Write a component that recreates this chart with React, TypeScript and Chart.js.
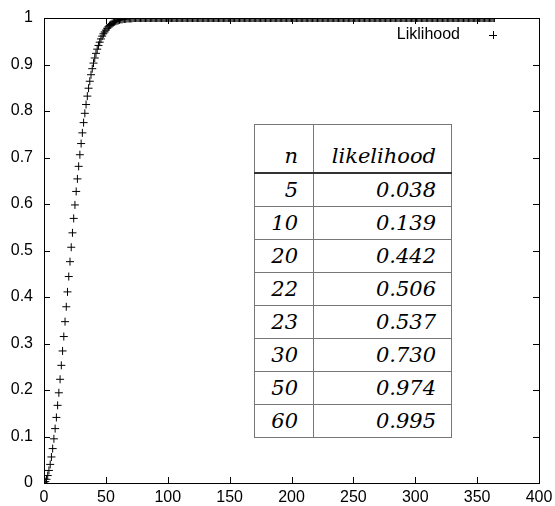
import React, { useEffect, useRef } from "react";
import { Chart, registerables } from "chart.js";

Chart.register(...registerables);

// likelihood that at least two of (n+1) people share a birthday; index = n
const likelihood: number[] = [
  0.000, 0.003, 0.008, 0.016, 0.027, 0.040, 0.056, 0.074, 0.095, 0.117,
  0.141, 0.167, 0.194, 0.223, 0.253, 0.284, 0.315, 0.347, 0.379, 0.411,
  0.444, 0.476, 0.507, 0.538, 0.569, 0.598, 0.627, 0.654, 0.681, 0.706,
  0.730, 0.753, 0.775, 0.795, 0.814, 0.832, 0.849, 0.864, 0.878, 0.891,
  0.903, 0.914, 0.924, 0.933, 0.941, 0.948, 0.955, 0.961, 0.966, 0.970,
  0.974, 0.978, 0.981, 0.984, 0.986, 0.988, 0.990, 0.992, 0.993, 0.994,
  0.995, 0.996, 0.997, 0.997, 0.998, 0.998, 0.998, 0.999, 0.999, 0.999,
  0.999, 0.999,
  1, 1, 1, 1, 1, 1, 1, 1, 1, 1, 1, 1, 1, 1, 1, 1, 1, 1, 1, 1,
  1, 1, 1, 1, 1, 1, 1, 1, 1, 1, 1, 1, 1, 1, 1, 1, 1, 1, 1, 1,
  1, 1, 1, 1, 1, 1, 1, 1, 1, 1, 1, 1, 1, 1, 1, 1, 1, 1, 1, 1,
  1, 1, 1, 1, 1, 1, 1, 1, 1, 1, 1, 1, 1, 1, 1, 1, 1, 1, 1, 1,
  1, 1, 1, 1, 1, 1, 1, 1, 1, 1, 1, 1, 1, 1, 1, 1, 1, 1, 1, 1,
  1, 1, 1, 1, 1, 1, 1, 1, 1, 1, 1, 1, 1, 1, 1, 1, 1, 1, 1, 1,
  1, 1, 1, 1, 1, 1, 1, 1, 1, 1, 1, 1, 1, 1, 1, 1, 1, 1, 1, 1,
  1, 1, 1, 1, 1, 1, 1, 1, 1, 1, 1, 1, 1, 1, 1, 1, 1, 1, 1, 1,
  1, 1, 1, 1, 1, 1, 1, 1, 1, 1, 1, 1, 1, 1, 1, 1, 1, 1, 1, 1,
  1, 1, 1, 1, 1, 1, 1, 1, 1, 1, 1, 1, 1, 1, 1, 1, 1, 1, 1, 1,
  1, 1, 1, 1, 1, 1, 1, 1, 1, 1, 1, 1, 1, 1, 1, 1, 1, 1, 1, 1,
  1, 1, 1, 1, 1, 1, 1, 1, 1, 1, 1, 1, 1, 1, 1, 1, 1, 1, 1, 1,
  1, 1, 1, 1, 1, 1, 1, 1, 1, 1, 1, 1, 1, 1, 1, 1, 1, 1, 1, 1,
  1, 1, 1, 1, 1, 1, 1, 1, 1, 1, 1, 1, 1, 1, 1, 1, 1, 1, 1, 1,
  1, 1, 1, 1, 1, 1, 1, 1, 1, 1, 1, 1, 1,
];

const seriesLabel = "Liklihood";
const xMin = 0;
const xMax = 400;
const xStep = 50;
const yMin = 0;
const yMax = 1;
const yStep = 0.1;

const tableHeaderN = "n";
const tableHeaderL = "likelihood";
const tableN = ["5", "10", "20", "22", "23", "30", "50", "60"];
const tableL = ["0.038", "0.139", "0.442", "0.506", "0.537", "0.730", "0.974", "0.995"];

const FONT = "Liberation Sans, Arial, sans-serif";

const framePlugin = {
  id: "gnuplotFrame",
  afterDraw(chart: any) {
    const { ctx, chartArea } = chart;
    const { left, right, top, bottom } = chartArea;
    ctx.save();
    ctx.strokeStyle = "#000";
    ctx.lineWidth = 1;
    ctx.strokeRect(Math.round(left) + 0.5, Math.round(top) + 0.5, Math.round(right - left), Math.round(bottom - top));
    const tl = 6;
    const xs = chart.scales.x;
    const ys = chart.scales.y;
    ctx.beginPath();
    xs.ticks.forEach((t: any) => {
      const px = Math.round(xs.getPixelForValue(t.value)) + 0.5;
      ctx.moveTo(px, bottom);
      ctx.lineTo(px, bottom - tl);
      ctx.moveTo(px, top);
      ctx.lineTo(px, top + tl);
    });
    ys.ticks.forEach((t: any) => {
      const py = Math.round(ys.getPixelForValue(t.value)) + 0.5;
      ctx.moveTo(left, py);
      ctx.lineTo(left + tl, py);
      ctx.moveTo(right, py);
      ctx.lineTo(right - tl, py);
    });
    ctx.stroke();

    // key
    const ky = top + 17;
    ctx.fillStyle = "#000";
    ctx.font = `16px ${FONT}`;
    ctx.textAlign = "right";
    ctx.textBaseline = "middle";
    ctx.fillText(seriesLabel, right - 79, ky);
    const kx = Math.round(right - 46);
    ctx.beginPath();
    ctx.moveTo(kx - 4, ky + 0.5);
    ctx.lineTo(kx + 4, ky + 0.5);
    ctx.moveTo(kx + 0.5, ky - 4);
    ctx.lineTo(kx + 0.5, ky + 4);
    ctx.stroke();
    ctx.restore();
  },
};

export default function App() {
  const ref = useRef<HTMLCanvasElement>(null);
  useEffect(() => {
    const points = likelihood.map((y, n) => ({ x: n, y }));
    const chart = new Chart(ref.current!, {
      type: "scatter",
      data: {
        datasets: [
          {
            label: seriesLabel,
            data: points,
            pointStyle: "cross",
            pointRadius: 4,
            pointBorderColor: "#000",
            pointBorderWidth: 1,
            borderColor: "#000",
            showLine: false,
          } as any,
        ],
      },
      options: {
        responsive: false,
        animation: false,
        layout: { padding: { top: 18, right: 16, left: 0, bottom: 0 } },
        plugins: { legend: { display: false }, tooltip: { enabled: false } },
        scales: {
          x: {
            type: "linear",
            min: xMin,
            max: xMax,
            ticks: { stepSize: xStep, padding: 5, color: "#000", font: { family: FONT, size: 16 }, maxRotation: 0 },
            grid: { display: false, drawTicks: false },
            border: { display: false },
            afterFit: (s: any) => {
              s.height = 23;
              s.paddingLeft = 0;
              s.paddingRight = 0;
            },
          },
          y: {
            type: "linear",
            min: yMin,
            max: yMax,
            ticks: {
              stepSize: yStep,
              padding: 11,
              color: "#000",
              font: { family: FONT, size: 16 },
              callback: (v: any) => String(Math.round(Number(v) * 10) / 10),
            },
            grid: { display: false, drawTicks: false },
            border: { display: false },
            afterFit: (s: any) => {
              s.width = 44;
              s.paddingTop = 0;
              s.paddingBottom = 0;
            },
          },
        },
      } as any,
      plugins: [framePlugin],
    });
    return () => chart.destroy();
  }, []);

  const cell: React.CSSProperties = {
    border: "1.5px solid #777",
    padding: "0 15px 0 0",
    fontFamily: "'DejaVu Serif', 'Liberation Serif', serif",
    fontStyle: "italic",
    fontSize: 21,
    height: 32,
    lineHeight: "32px",
    textAlign: "right",
    whiteSpace: "nowrap",
  };

  return (
    <div style={{ position: "absolute", left: 0, top: 0, width: 555, height: 506, background: "#fff" }}>
      <canvas ref={ref} width={555} height={506} style={{ display: "block" }} />
      <table
        style={{
          position: "absolute",
          left: 254,
          top: 124,
          width: 197,
          borderCollapse: "collapse",
          tableLayout: "fixed",
          background: "#fff",
          color: "#000",
        }}
      >
        <colgroup>
          <col style={{ width: 59 }} />
          <col style={{ width: 138 }} />
        </colgroup>
        <tbody>
          <tr>
            <td style={{ ...cell, height: 47, verticalAlign: "bottom", borderBottom: "2px solid #333" }}>{tableHeaderN}</td>
            <td style={{ ...cell, height: 47, verticalAlign: "bottom", borderBottom: "2px solid #333" }}>{tableHeaderL}</td>
          </tr>
          {tableN.map((n, i) => (
            <tr key={n}>
              <td style={cell}>{n}</td>
              <td style={cell}>{tableL[i]}</td>
            </tr>
          ))}
        </tbody>
      </table>
    </div>
  );
}
